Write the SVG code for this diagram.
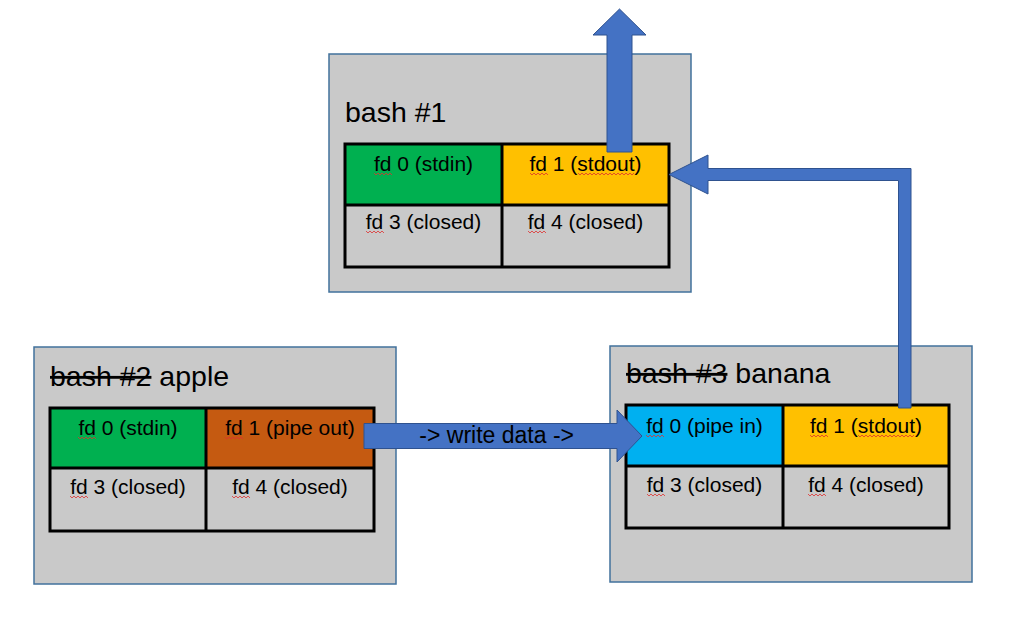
<svg xmlns="http://www.w3.org/2000/svg" width="1015" height="624" viewBox="0 0 1015 624">
<style>
.box{fill:#C9C9C9;stroke:#41719C;stroke-width:1.5}
.grid{fill:none;stroke:#000;stroke-width:3}
.t{font-family:"Liberation Sans",Arial,sans-serif;font-size:21px;fill:#000;text-anchor:middle}
.title{font-family:"Liberation Sans",Arial,sans-serif;font-size:28.5px;fill:#000}
.arr{fill:#4472C4;stroke:#2F528F;stroke-width:1}
.sq{fill:none;stroke:#E03030;stroke-width:0.8}
</style>
<rect width="1015" height="624" fill="#fff"/>
<g id="bash1">
<rect class="box" x="329" y="54" width="362" height="238"/>
<text class="title" x="345" y="122">bash #1</text>
<rect x="345" y="144" width="157" height="61" fill="#00B050"/>
<rect x="502" y="144" width="167" height="61" fill="#FFC000"/>
<rect class="grid" x="345" y="144" width="324" height="123"/>
<line class="grid" x1="502" y1="144" x2="502" y2="267"/>
<line class="grid" x1="345" y1="205" x2="669" y2="205"/>
<text class="t" x="423.5" y="171">fd 0 (stdin)</text>
<text class="t" x="585.5" y="171">fd 1 (stdout)</text>
<text class="t" x="423.5" y="229">fd 3 (closed)</text>
<text class="t" x="585.5" y="229">fd 4 (closed)</text>
<path class="sq" d="M374 173 l2 2 l2 -2 l2 2 l2 -2 l2 2 l2 -2 l2 2 l2 -2 l2 2"/>
<path class="sq" d="M530 173 l2 2 l2 -2 l2 2 l2 -2 l2 2 l2 -2 l2 2 l2 -2 l2 2"/>
<path class="sq" d="M578 173 l2 2 l2 -2 l2 2 l2 -2 l2 2 l2 -2 l2 2 l2 -2 l2 2 l2 -2 l2 2 l2 -2 l2 2 l2 -2 l2 2 l2 -2 l2 2 l2 -2 l2 2 l2 -2 l2 2 l2 -2 l2 2 l2 -2 l2 2 l2 -2 l2 2 l2 -2"/>
<path class="sq" d="M366 231 l2 2 l2 -2 l2 2 l2 -2 l2 2 l2 -2 l2 2 l2 -2 l2 2"/>
<path class="sq" d="M528 231 l2 2 l2 -2 l2 2 l2 -2 l2 2 l2 -2 l2 2 l2 -2 l2 2"/>
</g>
<g id="bash2">
<rect class="box" x="34" y="347" width="362" height="237"/>
<text class="title" x="50" y="386"><tspan text-decoration="line-through">bash #2</tspan> apple</text>
<rect x="50" y="408" width="156" height="60" fill="#00B050"/>
<rect x="206" y="408" width="168" height="60" fill="#C55A11"/>
<rect class="grid" x="50" y="408" width="324" height="123"/>
<line class="grid" x1="206" y1="408" x2="206" y2="531"/>
<line class="grid" x1="50" y1="468" x2="374" y2="468"/>
<text class="t" x="128" y="435">fd 0 (stdin)</text>
<text class="t" x="290" y="435">fd 1 (pipe out)</text>
<text class="t" x="128" y="494">fd 3 (closed)</text>
<text class="t" x="290" y="494">fd 4 (closed)</text>
<path class="sq" d="M78 437 l2 2 l2 -2 l2 2 l2 -2 l2 2 l2 -2 l2 2 l2 -2 l2 2"/>
<path class="sq" d="M225 437 l2 2 l2 -2 l2 2 l2 -2 l2 2 l2 -2 l2 2 l2 -2 l2 2"/>
<path class="sq" d="M70 496 l2 2 l2 -2 l2 2 l2 -2 l2 2 l2 -2 l2 2 l2 -2 l2 2"/>
<path class="sq" d="M232 496 l2 2 l2 -2 l2 2 l2 -2 l2 2 l2 -2 l2 2 l2 -2 l2 2"/>
</g>
<g id="bash3">
<rect class="box" x="610" y="346" width="362" height="236"/>
<text class="title" x="626" y="383"><tspan text-decoration="line-through">bash #3</tspan> banana</text>
<rect x="626" y="405" width="157" height="61" fill="#00B0F0"/>
<rect x="783" y="405" width="166" height="61" fill="#FFC000"/>
<rect class="grid" x="626" y="405" width="323" height="123"/>
<line class="grid" x1="783" y1="405" x2="783" y2="528"/>
<line class="grid" x1="626" y1="466" x2="949" y2="466"/>
<text class="t" x="704.5" y="433">fd 0 (pipe in)</text>
<text class="t" x="866" y="433">fd 1 (stdout)</text>
<text class="t" x="704.5" y="492">fd 3 (closed)</text>
<text class="t" x="866" y="492">fd 4 (closed)</text>
<path class="sq" d="M646 435 l2 2 l2 -2 l2 2 l2 -2 l2 2 l2 -2 l2 2 l2 -2 l2 2"/>
<path class="sq" d="M810 435 l2 2 l2 -2 l2 2 l2 -2 l2 2 l2 -2 l2 2 l2 -2 l2 2"/>
<path class="sq" d="M858 435 l2 2 l2 -2 l2 2 l2 -2 l2 2 l2 -2 l2 2 l2 -2 l2 2 l2 -2 l2 2 l2 -2 l2 2 l2 -2 l2 2 l2 -2 l2 2 l2 -2 l2 2 l2 -2 l2 2 l2 -2 l2 2 l2 -2 l2 2 l2 -2 l2 2 l2 -2"/>
<path class="sq" d="M647 494 l2 2 l2 -2 l2 2 l2 -2 l2 2 l2 -2 l2 2 l2 -2 l2 2"/>
<path class="sq" d="M808 494 l2 2 l2 -2 l2 2 l2 -2 l2 2 l2 -2 l2 2 l2 -2 l2 2"/>
</g>
<g id="connectors">
<polygon class="arr" points="607,152 607,35 593,35 619.5,9 646,35 632,35 632,152"/>
<polygon class="arr" points="669,174.5 708,155 708,168.5 911,168.5 911,408 898.5,408 898.5,180.5 708,180.5 708,194"/>
<polygon class="arr" points="364,423.5 617,423.5 617,410 642,436 617,462 617,448.5 364,448.5"/>
<text class="t" x="496.7" y="443" style="font-size:23px">-&gt; write data -&gt;</text>
</g>
</svg>
